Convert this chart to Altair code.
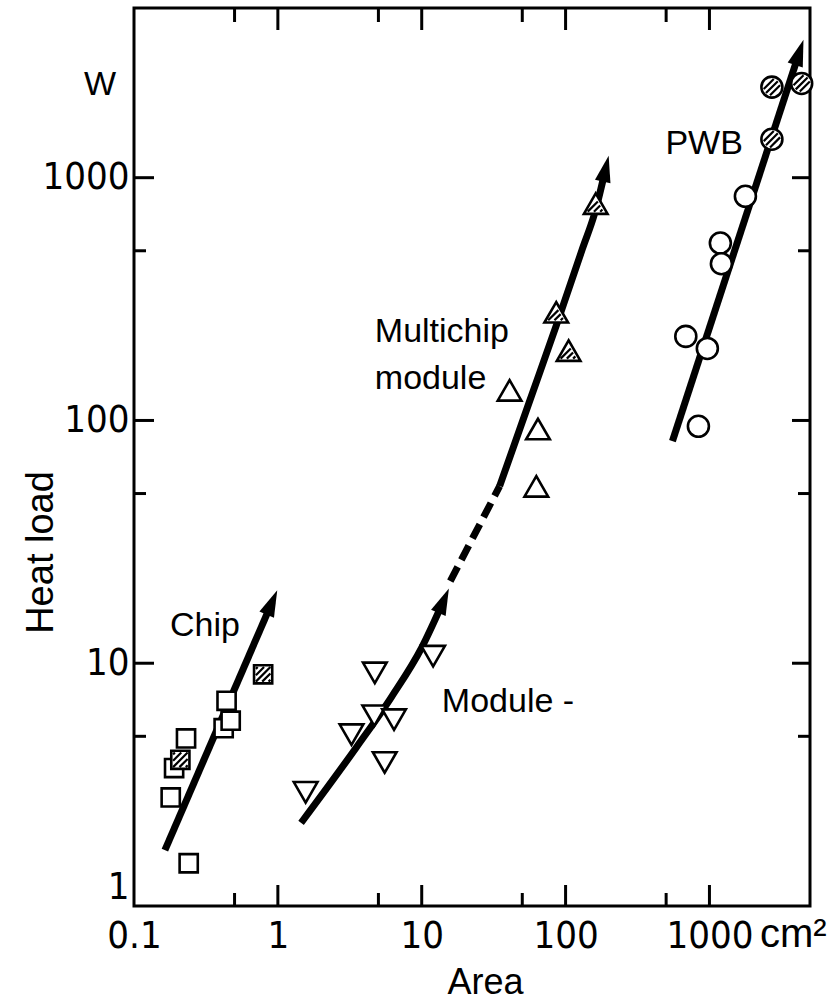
import altair as alt
import pandas as pd
import math

# ---------------- data ----------------
chip_open_x = [0.44, 0.42, 0.47, 0.23, 0.19, 0.18, 0.24]
chip_open_y = [7.0, 5.4, 5.8, 4.9, 3.7, 2.8, 1.5]
chip_hatched_x = [0.79, 0.21]
chip_hatched_y = [9.0, 4.0]

module_x = [1.56, 3.25, 4.72, 4.68, 6.42, 5.53, 12.0]
module_y = [2.94, 5.08, 9.13, 6.08, 5.86, 3.90, 10.7]

mcm_open_x = [40.8, 64.3, 62.6]
mcm_open_y = [133, 92.2, 53.5]
mcm_hatched_x = [86.1, 105, 162]
mcm_hatched_y = [279, 194, 782]

pwb_open_x = [1778, 1191, 1211, 685, 967, 838]
pwb_open_y = [838, 538, 442, 222, 198, 94.6]
pwb_hatched_x = [2717, 4375, 2717]
pwb_hatched_y = [2361, 2445, 1440]

# trend lines
chip_line_x = [0.164, 0.91]
chip_line_y = [1.70, 17.8]
module_line_x = [1.45, 3.54, 6.19, 10.0, 14.2]
module_line_y = [2.20, 4.53, 7.29, 11.6, 18.1]
dash_line_x = [15.8, 34.8]
dash_line_y = [21.8, 53.6]
mcm_line_x = [34.8, 56.2, 86.6, 131, 159, 190]
mcm_line_y = [53.6, 120, 248, 510, 711, 1090]
pwb_line_x = [553, 4217]
pwb_line_y = [82.2, 3283]

# arrow heads
arrow_x = [0.91, 14.2, 190, 4217]
arrow_y = [17.8, 18.1, 1090, 3283]
arrow_angle = [23.5, 23.5, 13, 18.2]

# annotations
ann_text = ["Chip", "Multichip", "module", "Module -", "PWB"]
ann_x = [0.178, 4.72, 4.72, 13.8, 494]
ann_y = [12.9, 211, 135, 6.32, 1257]

# axis ticks
x_major = [1, 10, 100, 1000]
x_minor = [0.5, 5, 50, 500]
y_major = [10, 100, 1000]
y_minor = [5, 50, 500]
x_labels = [0.1, 1, 10, 100, 1000]
y_labels = [1, 10, 100, 1000]

# ---------------- layout / style ----------------
W, H = 676, 898
NARROW = "Liberation Sans Narrow, DejaVu Sans Condensed, sans-serif"
SANS = "Liberation Sans, Arial, sans-serif"

xs = alt.Scale(type="log", domain=[0.1, 5000], nice=False)
ys = alt.Scale(type="log", domain=[1, 5000], nice=False)

x_axis = alt.Axis(values=x_labels, format="~g", ticks=False, tickSize=0, domain=False, grid=False,
                  labelFont=NARROW, labelFontSize=38, labelPadding=11, labelColor="black",
                  labelFlush=False, labelOverlap=False,
                  title="Area", titleFont=SANS, titleFontSize=36, titleFontWeight="normal",
                  titleColor="black", titleX=351, titleY=87, titleAlign="center",
                  titleBaseline="alphabetic")
y_axis = alt.Axis(values=y_labels, format="~g", ticks=False, tickSize=0, domain=False, grid=False,
                  labelFont=NARROW, labelFontSize=38, labelPadding=5, labelColor="black",
                  labelFlush=True, labelOverlap=False,
                  title="Heat load", titleFont=SANS, titleFontSize=38, titleFontWeight="normal",
                  titleColor="black", titleAngle=-90, titleX=-93, titleY=544,
                  titleAlign="center", titleBaseline="middle")

X = alt.X("x:Q", scale=xs, axis=x_axis)
Y = alt.Y("y:Q", scale=ys, axis=y_axis)


def df(xv, yv):
    return pd.DataFrame({"x": xv, "y": yv})


# ----- hatch path helpers (style only) -----
def inside(poly, p):
    sgn = 0
    n = len(poly)
    for i in range(n):
        ax, ay = poly[i]
        bx, by = poly[(i + 1) % n]
        cr = (bx - ax) * (p[1] - ay) - (by - ay) * (p[0] - ax)
        if cr != 0:
            s = 1 if cr > 0 else -1
            if sgn == 0:
                sgn = s
            elif s != sgn:
                return False
    return True


def hatch(poly, cs):
    parts = []
    for c in cs:
        ts = [i / 1000.0 for i in range(-2000, 2001)]
        ins = [t for t in ts if inside(poly, (c / 2 + t, c / 2 - t))]
        if len(ins) < 2:
            continue
        t0, t1 = min(ins), max(ins)
        parts.append("M%.3f,%.3fL%.3f,%.3f" % (c / 2 + t0, c / 2 - t0, c / 2 + t1, c / 2 - t1))
    return "".join(parts)


sq_poly = [(-0.8, -0.8), (0.8, -0.8), (0.8, 0.8), (-0.8, 0.8)]
circ_poly = [(0.8 * math.cos(2 * math.pi * k / 64), 0.8 * math.sin(2 * math.pi * k / 64)) for k in range(64)]
cy = 0.289
tri_poly = [(0, cy + (-0.866 - cy) * 0.68), (0.68, cy + (0.866 - cy) * 0.68),
            (-0.68, cy + (0.866 - cy) * 0.68)]

SQ_HATCH = hatch(sq_poly, [-1.4, -0.7, 0, 0.7, 1.4])
CIRC_HATCH = hatch(circ_poly, [-1.2, -0.6, 0, 0.6, 1.2])
TRI_HATCH = hatch(tri_poly, [-1.06, -0.53, 0, 0.53, 1.06, 1.59])

ARROW = "M0,-1L0.6,1L-0.6,1Z"

layers = []


# ----- inner ticks -----
def vticks(vals, length, side):
    if side == "left":
        xe = dict(x=alt.value(0), x2=alt.value(length))
    else:
        xe = dict(x=alt.value(W), x2=alt.value(W - length))
    return alt.Chart(pd.DataFrame({"y": vals})).mark_rule(color="black", strokeWidth=3).encode(y=Y, **xe)


def hticks(vals, length, side):
    if side == "bottom":
        ye = dict(y=alt.value(H), y2=alt.value(H - length))
    else:
        ye = dict(y=alt.value(0), y2=alt.value(length))
    return alt.Chart(pd.DataFrame({"x": vals})).mark_rule(color="black", strokeWidth=3).encode(x=X, **ye)


layers += [vticks(y_major, 20, "left"), vticks(y_minor, 12, "left"),
           vticks(y_major, 18, "right"), vticks(y_minor, 12, "right"),
           hticks(x_major, 21, "bottom"), hticks(x_minor, 13, "bottom"),
           hticks(x_major, 22, "top"), hticks(x_minor, 14, "top")]

# ----- trend lines -----
LW = 7
layers.append(alt.Chart(df(chip_line_x, chip_line_y)).mark_line(color="black", strokeWidth=LW).encode(x=X, y=Y))
layers.append(alt.Chart(df(module_line_x, module_line_y)).mark_line(color="black", strokeWidth=LW, interpolate="monotone").encode(x=X, y=Y))
layers.append(alt.Chart(df(dash_line_x, dash_line_y)).mark_line(color="black", strokeWidth=LW, strokeDash=[16, 8]).encode(x=X, y=Y))
layers.append(alt.Chart(df(mcm_line_x, mcm_line_y)).mark_line(color="black", strokeWidth=LW, interpolate="monotone").encode(x=X, y=Y))
layers.append(alt.Chart(df(pwb_line_x, pwb_line_y)).mark_line(color="black", strokeWidth=LW).encode(x=X, y=Y))

# arrow heads
arr = pd.DataFrame({"x": arrow_x, "y": arrow_y, "a": arrow_angle})
layers.append(alt.Chart(arr).mark_point(shape=ARROW, filled=True, color="black", size=700, opacity=1)
              .encode(x=X, y=Y, angle=alt.Angle("a:Q", scale=None)))


# ----- markers -----
def markers(xv, yv, shape, size, hatch_path=None):
    base = alt.Chart(df(xv, yv)).mark_point(shape=shape, size=size, filled=True, fill="white",
                                            stroke="black", strokeWidth=2.6, opacity=1).encode(x=X, y=Y)
    out = [base]
    if hatch_path:
        out.append(alt.Chart(df(xv, yv)).mark_point(shape=hatch_path, size=size, filled=False,
                                                    stroke="black", strokeWidth=2.2, opacity=1).encode(x=X, y=Y))
    return out


layers += markers(chip_open_x, chip_open_y, "square", 330)
layers += markers(chip_hatched_x, chip_hatched_y, "square", 330, SQ_HATCH)
layers += markers(module_x, module_y, "triangle-down", 560)
layers += markers(mcm_open_x, mcm_open_y, "triangle-up", 560)
layers += markers(mcm_hatched_x, mcm_hatched_y, "triangle-up", 560, TRI_HATCH)
layers += markers(pwb_open_x, pwb_open_y, "circle", 441)
layers += markers(pwb_hatched_x, pwb_hatched_y, "circle", 441, CIRC_HATCH)

# ----- annotations -----
ann = pd.DataFrame({"x": ann_x, "y": ann_y, "t": ann_text})
layers.append(alt.Chart(ann).mark_text(align="left", baseline="alphabetic", font=SANS, fontSize=34, color="black")
              .encode(x=X, y=Y, text="t:N"))

# unit labels
layers.append(alt.Chart(pd.DataFrame({"t": ["W"]})).mark_text(align="center", baseline="middle", font=SANS,
                                                            fontSize=34, color="black")
              .encode(x=alt.value(-34), y=alt.value(77), text="t:N"))
layers.append(alt.Chart(pd.DataFrame({"t": ["cm²"]})).mark_text(align="left", baseline="alphabetic", font=SANS,
                                                              fontSize=40, color="black")
              .encode(x=alt.value(626), y=alt.value(939), text="t:N"))

chart = alt.layer(*layers).properties(
    width=W, height=H,
    autosize=alt.AutoSizeParams(type="none"),
    padding={"left": 134, "top": 8, "right": 29, "bottom": 97},
    background="white",
).configure_view(stroke="black", strokeWidth=3)

chart.save("out.html", embed_options={"renderer": "svg", "actions": False})
